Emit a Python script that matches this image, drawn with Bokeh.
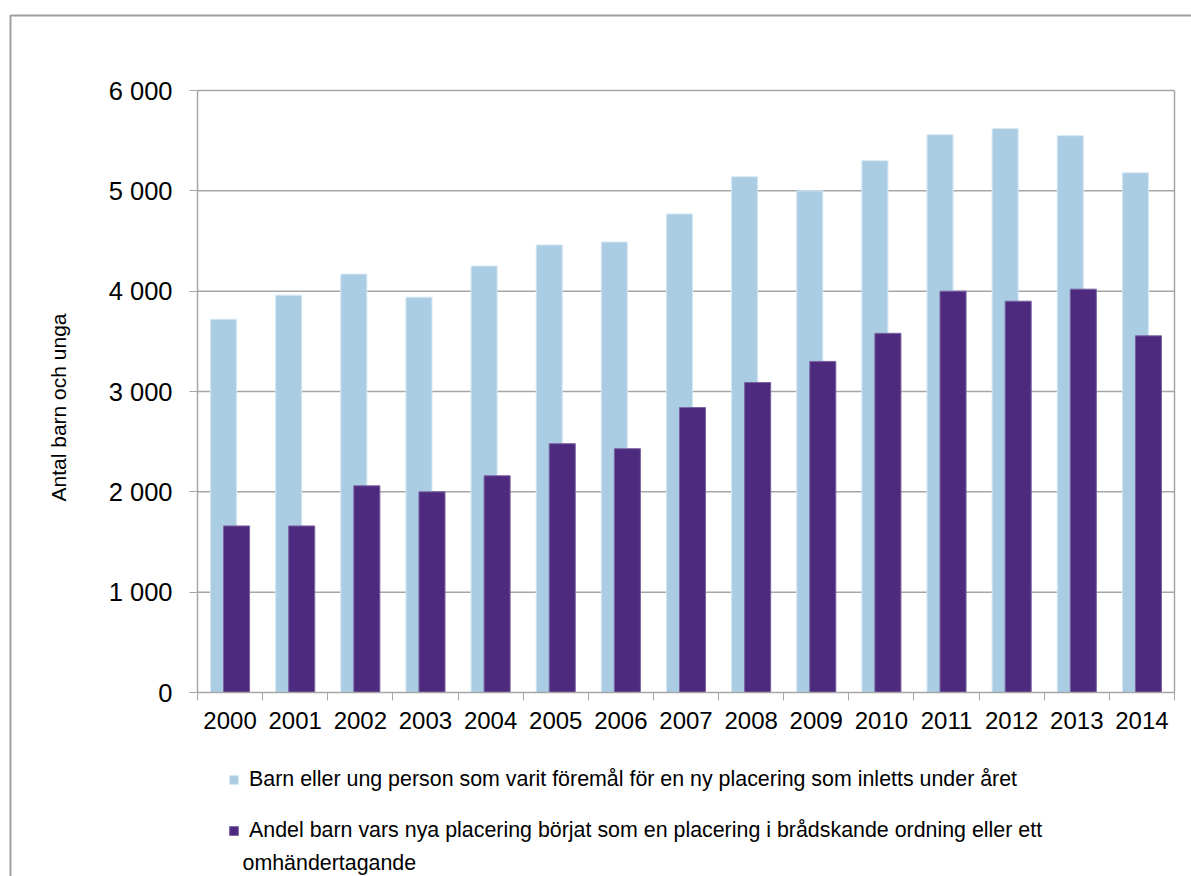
import math
from bokeh.plotting import figure
from bokeh.models import (Range1d, FixedTicker, Legend, LegendItem, Label,
                          BoxAnnotation, ColumnDataSource, LinearAxis)
from bokeh.transform import dodge
from bokeh.embed import file_html
from bokeh.resources import INLINE

# ---- data ----
years = ["2000", "2001", "2002", "2003", "2004", "2005", "2006", "2007",
         "2008", "2009", "2010", "2011", "2012", "2013", "2014"]
placed = [3720, 3960, 4170, 3940, 4250, 4460, 4490, 4770,
          5140, 5000, 5300, 5560, 5620, 5550, 5180]
acute = [1660, 1660, 2060, 2000, 2160, 2480, 2430, 2840,
         3090, 3300, 3580, 4000, 3900, 4020, 3555]
y_ticks = [0, 1000, 2000, 3000, 4000, 5000, 6000]
y_tick_labels = ["0", "1 000", "2 000", "3 000", "4 000", "5 000", "6 000"]
series_labels = [
    "Barn eller ung person som varit föremål för en ny placering som inletts under året",
    "Andel barn vars nya placering börjat som en placering i brådskande ordning eller ett",
]
series_label_cont = "omhändertagande"
y_title = "Antal barn och unga"

FONT = "Liberation Sans"
GRAY = "#a6a6a6"
LIGHT = "#abcde4"
DARK = "#4e2a7e"

# canvas and plot-area placement (pixels)
W, H = 1191, 876
PX_L, PX_R, PX_T, PX_B = 197, 1174, 90, 692
X0, X1 = -0.5, len(years) - 0.5
Y0, Y1 = y_ticks[0], y_ticks[-1]
sx = (PX_R - PX_L) / (X1 - X0)
sy = (PX_B - PX_T) / (Y1 - Y0)
x_range = Range1d(X0 - PX_L / sx, X1 + (W - PX_R) / sx)
y_range = Range1d(Y0 - (H - PX_B) / sy, Y1 + PX_T / sy)

p = figure(width=W, height=H, output_backend="svg", toolbar_location=None,
           x_range=x_range, y_range=y_range,
           x_axis_location=None, y_axis_location=None,
           min_border=0, min_border_left=0, min_border_right=0,
           min_border_top=0, min_border_bottom=0)
p.background_fill_color = "white"
p.border_fill_color = "white"
p.outline_line_color = None
p.xgrid.visible = False
p.ygrid.visible = False

# gridlines (behind bars)
gsrc = ColumnDataSource(dict(y=y_ticks[1:]))
p.segment(x0=X0, x1=X1, y0="y", y1="y", source=gsrc, line_color=GRAY, line_width=1.5)

src = ColumnDataSource(dict(x=list(range(len(years))), placed=placed, acute=acute))
r1 = p.vbar(x=dodge("x", -0.1), top="placed", width=0.4, source=src,
            fill_color=LIGHT, line_color="#d4e7f3", line_width=1)
r2 = p.vbar(x=dodge("x", 0.1), top="acute", width=0.4, source=src,
            fill_color=DARK, line_color="#7b63a3", line_width=1)

# x axis
xa = LinearAxis(fixed_location=Y0, bounds=(X0, X1))
xa.ticker = FixedTicker(ticks=list(range(len(years))),
                        minor_ticks=[i - 0.5 for i in range(len(years) + 1)])
xa.major_label_overrides = {i: y for i, y in enumerate(years)}
xa.major_tick_in = 0
xa.major_tick_out = 0
xa.minor_tick_in = 0
xa.minor_tick_out = 8
xa.minor_tick_line_color = GRAY
xa.axis_line_color = GRAY
xa.axis_line_width = 1.5
xa.major_label_text_font = FONT
xa.major_label_text_font_size = "24px"
xa.major_label_text_color = "black"
xa.major_label_standoff = 11
p.add_layout(xa, "below")

# y axis
ya = LinearAxis(fixed_location=X0, bounds=(Y0, Y1))
ya.ticker = FixedTicker(ticks=y_ticks)
ya.major_label_overrides = dict(zip(y_ticks, y_tick_labels))
ya.major_tick_in = 0
ya.major_tick_out = 8
ya.minor_tick_in = 0
ya.minor_tick_out = 0
ya.major_tick_line_color = GRAY
ya.axis_line_color = GRAY
ya.axis_line_width = 1.5
ya.major_label_text_font = FONT
ya.major_label_text_font_size = "25.5px"
ya.major_label_text_color = "black"
ya.major_label_standoff = 17
p.add_layout(ya, "left")

# y axis title
p.add_layout(Label(x=58, y=H - 407, x_units="screen", y_units="screen",
                   text=y_title, angle=math.pi / 2, text_font=FONT,
                   text_font_size="21px", text_color="black",
                   text_align="center", text_baseline="middle"))

# right border of plot area
ra = LinearAxis(fixed_location=X1, bounds=(Y0, Y1))
ra.ticker = FixedTicker(ticks=[])
ra.major_tick_out = 0
ra.minor_tick_out = 0
ra.major_label_text_font_size = "0px"
ra.axis_line_color = GRAY
ra.axis_line_width = 1.5
p.add_layout(ra, "right")

# legends
def make_legend(label, renderer, loc):
    return Legend(items=[LegendItem(label=label, renderers=[renderer])],
                  location=loc, padding=0, margin=0,
                  glyph_width=11, glyph_height=11, label_standoff=10,
                  label_height=11,
                  label_text_font=FONT, label_text_font_size="21.4px",
                  label_text_color="black", border_line_alpha=0,
                  background_fill_alpha=0)

p.add_layout(make_legend(series_labels[0], r1, (228, H - 792)), "center")
p.add_layout(make_legend(series_labels[1], r2, (228, H - 843)), "center")
p.add_layout(Label(x=242, y=H - 862, x_units="screen", y_units="screen",
                   text=series_label_cont, text_font=FONT, text_font_size="21.4px",
                   text_color="black", text_baseline="alphabetic"))

# outer chart border
p.add_layout(BoxAnnotation(left=10, right=W + 50, top=H - 15, bottom=-50,
                           left_units="screen", right_units="screen",
                           top_units="screen", bottom_units="screen",
                           fill_alpha=0, line_color="#a0a0a0", line_alpha=1,
                           line_width=2))

open("out.html", "w").write(file_html(p, INLINE))
